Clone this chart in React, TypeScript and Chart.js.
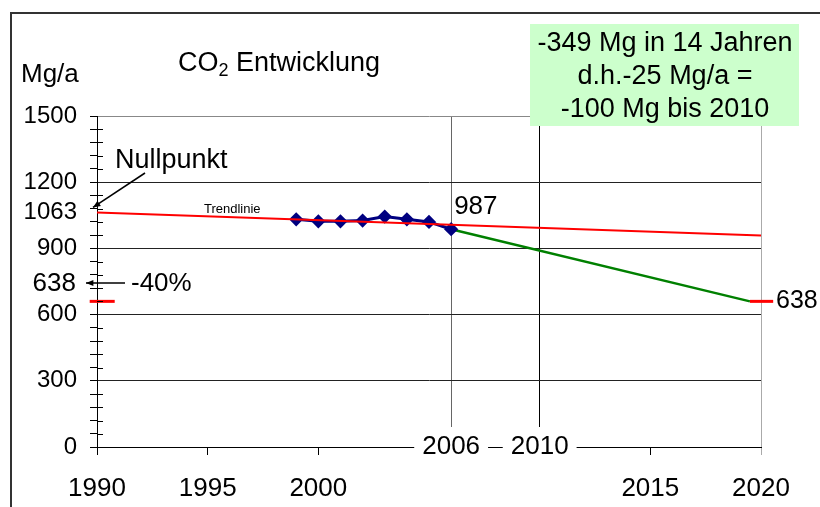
import React, { useEffect, useRef } from 'react';
import { Chart, registerables } from 'chart.js';

Chart.register(...registerables);

// ---- data ----
const measuredYears = [1999, 2000, 2001, 2002, 2003, 2004, 2005, 2006];
const measuredValues = [1032, 1023, 1023, 1026, 1044, 1032, 1020, 987];
const trendYears = [1990, 2020];
const trendValues = [1063, 959];
const targetYears = [2006, 2019.5];
const targetValues = [987, 660];
const markerLeftYears = [1989.67, 1990.8];
const markerRightYears = [2019.5, 2020.55];
const markerValue = 660;
const xTickYears = [1990, 1995, 2000, 2006, 2010, 2015, 2020];
const xInlineYears = [2006, 2010];
const yMajorTicks = [0, 300, 600, 900, 1200, 1500];
const yMinorStep = 60;
const yStartValue = 1063;
const yMin = 0;
const yMax = 1500;
const lastValue = 987;
const goalLabel = '638';
const titleMain = 'CO';
const titleSub = '2';
const titleRest = ' Entwicklung';
const unitLabel = 'Mg/a';
const nullLabel = 'Nullpunkt';
const trendLabel = 'Trendlinie';
const percentLabel = '-40%';
const boxLines = ['-349 Mg in 14 Jahren', 'd.h.-25 Mg/a =', '-100 Mg bis 2010'];

const FONT = "'Liberation Sans', Arial, Helvetica, sans-serif";

const pts = (xs: number[], ys: number[]) => xs.map((x, i) => ({ x, y: ys[i] }));

const yTickValues = (() => {
  const v: number[] = [];
  for (let t = yMin; t <= yMax; t += yMinorStep) v.push(t);
  v.push(yStartValue);
  return v.sort((a, b) => a - b);
})();

function arrow(ctx: CanvasRenderingContext2D, x1: number, y1: number, x2: number, y2: number) {
  ctx.beginPath();
  ctx.moveTo(x1, y1);
  ctx.lineTo(x2, y2);
  ctx.stroke();
  const ang = Math.atan2(y2 - y1, x2 - x1);
  const L = 8;
  ctx.beginPath();
  ctx.moveTo(x2, y2);
  ctx.lineTo(x2 - L * Math.cos(ang - 0.4), y2 - L * Math.sin(ang - 0.4));
  ctx.lineTo(x2 - L * Math.cos(ang + 0.4), y2 - L * Math.sin(ang + 0.4));
  ctx.closePath();
  ctx.fill();
}

const annotations = {
  id: 'annotations',
  afterDraw(chart: any) {
    const ctx: CanvasRenderingContext2D = chart.ctx;
    const xs = chart.scales.x;
    const ys = chart.scales.y;
    const area = chart.chartArea;
    ctx.save();

    // minor ticks crossing into the plot
    ctx.strokeStyle = '#000';
    ctx.lineWidth = 1;
    yTickValues.forEach((v) => {
      if (yMajorTicks.includes(v) || v === yStartValue) return;
      const y = Math.round(ys.getPixelForValue(v)) + 0.5;
      ctx.beginPath();
      ctx.moveTo(area.left, y);
      ctx.lineTo(area.left + 6, y);
      ctx.stroke();
    });

    // inline x labels on axis line
    ctx.font = `26px ${FONT}`;
    ctx.textAlign = 'center';
    ctx.textBaseline = 'middle';
    xInlineYears.forEach((yr) => {
      const x = xs.getPixelForValue(yr);
      const w = ctx.measureText(String(yr)).width + 16;
      ctx.fillStyle = '#fff';
      ctx.fillRect(x - w / 2, area.bottom - 20, w, 40);
      ctx.fillStyle = '#000';
      ctx.fillText(String(yr), x, area.bottom);
    });

    // outer frame
    ctx.strokeStyle = '#333';
    ctx.lineWidth = 2;
    ctx.beginPath();
    ctx.moveTo(11, chart.height);
    ctx.lineTo(11, 13);
    ctx.lineTo(chart.width, 13);
    ctx.stroke();

    // title
    ctx.fillStyle = '#000';
    ctx.textAlign = 'left';
    ctx.textBaseline = 'alphabetic';
    ctx.font = `27px ${FONT}`;
    let tx = 178;
    ctx.fillText(titleMain, tx, 71);
    tx += ctx.measureText(titleMain).width;
    ctx.font = `18px ${FONT}`;
    ctx.fillText(titleSub, tx, 76);
    tx += ctx.measureText(titleSub).width;
    ctx.font = `27px ${FONT}`;
    ctx.fillText(titleRest, tx, 71);

    // unit
    ctx.font = `26px ${FONT}`;
    ctx.fillText(unitLabel, 21, 82);

    // Nullpunkt
    ctx.font = `27px ${FONT}`;
    ctx.fillText(nullLabel, 115, 168);
    ctx.lineWidth = 1.5;
    ctx.strokeStyle = '#000';
    arrow(ctx, 145, 173, area.left - 4, ys.getPixelForValue(yStartValue) - 5);

    // Trendlinie
    ctx.font = `13px ${FONT}`;
    ctx.textBaseline = 'middle';
    ctx.fillText(trendLabel, 204, 209);

    // 987
    ctx.font = `26px ${FONT}`;
    ctx.fillText(String(lastValue), xs.getPixelForValue(2006) + 3, ys.getPixelForValue(lastValue) - 22);

    // 638 left + arrow + -40%
    ctx.textAlign = 'right';
    ctx.fillText(goalLabel, 76, 284);
    ctx.textAlign = 'left';
    ctx.fillText(percentLabel, 131, 284);
    ctx.lineWidth = 1.5;
    arrow(ctx, 125, 283, 86, 283);

    // 638 right
    ctx.font = `25px ${FONT}`;
    ctx.fillText(goalLabel, 776, ys.getPixelForValue(markerValue));

    // green box
    ctx.fillStyle = '#ccffcc';
    ctx.fillRect(530, 24, 269, 102);
    ctx.fillStyle = '#000';
    ctx.textAlign = 'center';
    ctx.font = `27px ${FONT}`;
    boxLines.forEach((l, i) => ctx.fillText(l, 665, 44 + i * 33));

    ctx.restore();
  },
};

export default function App() {
  const ref = useRef<HTMLCanvasElement | null>(null);
  useEffect(() => {
    if (!ref.current) return;
    const chart = new Chart(ref.current, {
      type: 'line',
      data: {
        datasets: [
          {
            data: pts(trendYears, trendValues),
            borderColor: '#ff0000',
            borderWidth: 2,
            pointRadius: 0,
          },
          {
            data: pts(markerLeftYears, markerLeftYears.map(() => markerValue)),
            borderColor: '#ff0000',
            borderWidth: 3,
            pointRadius: 0,
            clip: false,
          } as any,
          {
            data: pts(markerRightYears, markerRightYears.map(() => markerValue)),
            borderColor: '#ff0000',
            borderWidth: 3,
            pointRadius: 0,
            clip: false,
          } as any,
          {
            data: pts(measuredYears, measuredValues),
            borderColor: '#000080',
            backgroundColor: '#000080',
            borderWidth: 3,
            pointStyle: 'rectRot',
            pointRadius: 5,
            pointBackgroundColor: '#000080',
            pointBorderColor: '#000080',
          },
          {
            data: pts(targetYears, targetValues),
            borderColor: '#008000',
            borderWidth: 2.5,
            pointRadius: 0,
          },
        ],
      },
      options: {
        animation: false,
        responsive: false,
        layout: { padding: { left: 0, top: 116, right: 59, bottom: 0 } },
        plugins: { legend: { display: false }, tooltip: { enabled: false }, title: { display: false } },
        scales: {
          x: {
            type: 'linear',
            min: 1990,
            max: 2020,
            afterBuildTicks: (s: any) => {
              s.ticks = xTickYears.map((v) => ({ value: v }));
            },
            afterFit: (s: any) => {
              s.height = 60;
            },
            ticks: {
              autoSkip: false,
              maxRotation: 0,
              padding: 18,
              color: '#000',
              font: { family: FONT, size: 26 },
              callback: (v: any) => (xInlineYears.includes(Number(v)) ? '' : String(v)),
            },
            grid: {
              drawTicks: true,
              tickLength: 8,
              color: (c: any) => {
                const v = c.tick?.value;
                if (v === 2006) return '#666';
                if (v === 2010) return '#000';
                if (v === 2020) return '#aaa';
                return 'rgba(0,0,0,0)';
              },
              tickColor: (c: any) => (c.tick?.value === 2020 ? '#aaa' : '#000'),
            },
            border: { display: true, color: '#000', width: 1 },
          },
          y: {
            type: 'linear',
            min: yMin,
            max: yMax,
            afterBuildTicks: (s: any) => {
              s.ticks = yTickValues.map((v) => ({ value: v }));
            },
            afterFit: (s: any) => {
              s.width = 97;
            },
            ticks: {
              autoSkip: false,
              padding: 13,
              color: '#000',
              font: { family: FONT, size: 24 },
              callback: (v: any) => {
                const n = Number(v);
                return yMajorTicks.includes(n) || n === yStartValue ? String(n) : '';
              },
            },
            grid: {
              drawTicks: true,
              tickLength: 7,
              color: (c: any) => {
                const v = c.tick?.value;
                if (v === yMax) return '#888';
                if (yMajorTicks.includes(v)) return '#222';
                return 'rgba(0,0,0,0)';
              },
              tickColor: (c: any) => (c.tick?.value === yStartValue ? 'rgba(0,0,0,0)' : '#000'),
            },
            border: { display: true, color: '#000', width: 1 },
          },
        },
      },
      plugins: [annotations],
    });
    return () => chart.destroy();
  }, []);
  return (
    <div style={{ position: 'fixed', left: 0, top: 0, width: 820, height: 507, background: '#fff' }}>
      <canvas ref={ref} width={820} height={507} style={{ display: 'block' }} />
    </div>
  );
}
